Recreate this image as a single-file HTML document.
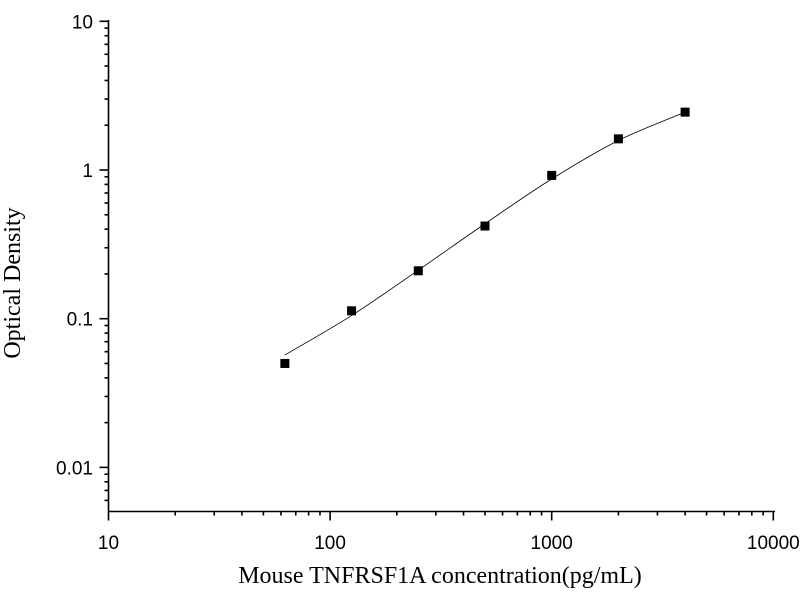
<!DOCTYPE html>
<html><head><meta charset="utf-8"><style>
body{margin:0;background:#fff;}
svg{display:block;font-family:"Liberation Sans",Arial,sans-serif;}
</style></head><body>
<svg id="s" width="800" height="600" xmlns="http://www.w3.org/2000/svg">
<rect width="800" height="600" fill="#fff"/>
<g id="g" stroke="#000" stroke-width="1.6" fill="none"></g>
<g id="t" font-size="19" fill="#000"></g>
<text x="440" y="583" font-family="Liberation Serif,serif" font-size="24" text-anchor="middle">Mouse TNFRSF1A concentration(pg/mL)</text>
<text transform="translate(20,283) rotate(-90)" font-family="Liberation Serif,serif" font-size="24" text-anchor="middle">Optical Density</text>
</svg>
<script>
var X0=108.5,XD=221.6,Y1=170,YD=148.7,AY=511.5;
function px(v){return X0+XD*Math.log10(v/10);}
function py(v){return Y1-YD*Math.log10(v);}
var g=document.getElementById('g'),t=document.getElementById('t'),h='',tt='';
h+='<line x1="'+X0+'" y1="'+AY+'" x2="775" y2="'+AY+'"/>';
h+='<line x1="'+X0+'" y1="'+AY+'" x2="'+X0+'" y2="20"/>';
for(var e=1;e<=4;e++){var v=Math.pow(10,e);var x=px(v);
 h+='<line x1="'+x+'" y1="'+AY+'" x2="'+x+'" y2="'+(AY+9)+'"/>';
 tt+='<text x="'+x+'" y="549" text-anchor="middle">'+v+'</text>';
 if(e<4)for(var m=2;m<10;m++){var xm=px(m*v);h+='<line x1="'+xm+'" y1="'+AY+'" x2="'+xm+'" y2="'+(AY+4)+'"/>';}}
var labs={'-2':'0.01','-1':'0.1','0':'1','1':'10'};
for(var e=-3;e<=1;e++){var v=Math.pow(10,e);var y=py(v);
 if(e>=-2){h+='<line x1="'+(X0-9)+'" y1="'+y+'" x2="'+X0+'" y2="'+y+'"/>';
 tt+='<text x="93" y="'+(y+7)+'" text-anchor="end">'+labs[e]+'</text>';}
 if(e<1)for(var m=2;m<10;m++){var ym=py(m*v);if(ym<AY)h+='<line x1="'+(X0-4)+'" y1="'+ym+'" x2="'+X0+'" y2="'+ym+'"/>';}}
var cx=[62.5,125,250,500,1000,2000,4000],cy=[0.057,0.105,0.212,0.435,0.87,1.58,2.45];
var P=cx.map(function(c,i){return [px(c),py(cy[i])];});
var d='M'+P[0][0]+','+P[0][1];
for(var i=0;i<P.length-1;i++){var p0=P[i-1]||P[i],p1=P[i],p2=P[i+1],p3=P[i+2]||P[i+1];
 d+=' C'+(p1[0]+(p2[0]-p0[0])/6)+','+(p1[1]+(p2[1]-p0[1])/6)+' '+(p2[0]-(p3[0]-p1[0])/6)+','+(p2[1]-(p3[1]-p1[1])/6)+' '+p2[0]+','+p2[1];}
h+='<path d="'+d+'" stroke-width="0.8"/>';
var dy=[0.05,0.113,0.21,0.42,0.92,1.62,2.45];
g.innerHTML=h;
var pts='';
cx.forEach(function(c,i){pts+='<rect x="'+(px(c)-4.5)+'" y="'+(py(dy[i])-4.5)+'" width="9" height="9" fill="#000" stroke="none"/>';});
g.innerHTML+=pts;
t.innerHTML=tt;
</script>
</body></html>
